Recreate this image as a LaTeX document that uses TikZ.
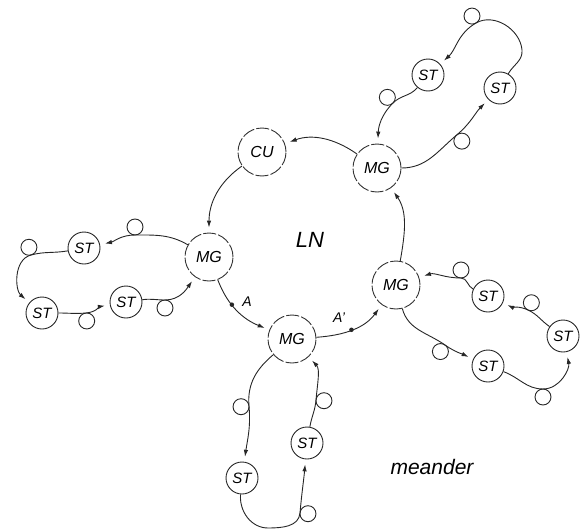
\documentclass[tikz,border=0pt]{standalone}
\usepackage{fontspec}
\setmainfont{Liberation Sans}
\usetikzlibrary{arrows.meta}

\begin{document}
\begin{tikzpicture}[x=1pt,y=1pt,
  line width=0.9pt, draw=black!85,
  big/.style={circle, draw=black!80, dash pattern=on 13pt off 2.2pt,
    minimum size=48pt, inner sep=0pt, font=\fontsize{16}{16}\selectfont\itshape},
  stbox/.style={circle, draw, minimum size=32pt, inner sep=0pt,
    font=\fontsize{15}{15}\selectfont\itshape},
  lp/.style={circle, draw, minimum size=16pt, inner sep=0pt, outer sep=0pt},
  arr/.style={-{Latex[length=7pt,width=4.5pt]}, shorten >=5pt},
  dot/.style={circle, fill=black!85, inner sep=0pt, minimum size=4.5pt},
  lbl/.style={font=\fontsize{14}{14}\selectfont\itshape, inner sep=0pt}]
\useasboundingbox (0,0) rectangle (581,-530);

% ring of the local network
\node[big] (CU)  at (262,-152) {CU};
\node[big] (MGt) at (377,-168) {MG};
\node[big] (MGl) at (209,-257) {MG};
\node[big] (MGb) at (292,-339) {MG};
\node[big] (MGr) at (396,-285) {MG};
\node[font=\fontsize{22}{22}\selectfont\itshape] (LN) at (310,-240) {LN};

% stations
\node[stbox] (t1) at (428,-75)  {ST};
\node[stbox] (t2) at (500,-88)  {ST};
\node[stbox] (l1) at (84,-248)  {ST};
\node[stbox] (l2) at (42,-313)  {ST};
\node[stbox] (l3) at (126,-302) {ST};
\node[stbox] (r1) at (488,-296) {ST};
\node[stbox] (r2) at (563,-336) {ST};
\node[stbox] (r3) at (488,-366) {ST};
\node[stbox] (b1) at (242,-478) {ST};
\node[stbox] (b2) at (307,-443) {ST};

\node[font=\fontsize{21}{21}\selectfont\itshape] (mea) at (432,-467) {meander};

% touching points of the small loops
\coordinate (k1)  at (456.7,-135);
\coordinate (k2)  at (476,-23);
\coordinate (k3)  at (393,-103);
\coordinate (k4)  at (135,-235);
\coordinate (k5)  at (31,-255);
\coordinate (k6)  at (86,-313);
\coordinate (k7)  at (165,-300);
\coordinate (k8)  at (249,-406);
\coordinate (k9)  at (300,-513);
\coordinate (k10) at (316,-400);
\coordinate (k11) at (445,-345);
\coordinate (k12) at (543,-389);
\coordinate (k13) at (528,-310);
\coordinate (k14) at (461,-278);

% the small loops, each on the right-hand side of its line
\node[lp] (p1)  at ([shift={(310:8)}]k1)  {};
\node[lp] (p2)  at ([shift={(120:8)}]k2)  {};
\node[lp] (p3)  at ([shift={(135:8)}]k3)  {};
\node[lp] (p4)  at ([shift={(90:8)}]k4)   {};
\node[lp] (p5)  at ([shift={(105:8)}]k5)  {};
\node[lp] (p6)  at ([shift={(275:8)}]k6)  {};
\node[lp] (p7)  at ([shift={(270:8)}]k7)  {};
\node[lp] (p8)  at ([shift={(185:8)}]k8)  {};
\node[lp] (p9)  at ([shift={(355:8)}]k9)  {};
\node[lp] (p10) at ([shift={(355:8)}]k10) {};
\node[lp] (p11) at ([shift={(235:8)}]k11) {};
\node[lp] (p12) at ([shift={(270:8)}]k12) {};
\node[lp] (p13) at ([shift={(65:8)}]k13)  {};
\node[lp] (p14) at ([shift={(90:8)}]k14)  {};

% ring connections
\draw[arr] (MGt) to[out=145,in=20] (CU);
\draw[arr] (CU) to[out=215,in=90] (MGl);
\draw[arr] (MGl) to[out=-69,in=158] node[dot,pos=0.38] (dA) {} (MGb);
\draw[arr] (MGb) to[out=4,in=234] node[dot,pos=0.47] (dB) {} (MGr);
\draw[arr] (MGr) to[out=80,in=-55] (MGt);
\node[lbl] (lA) at (247,-302) {A};
\node[lbl] (lB) at (339,-318) {A'};

% upper meander
\draw[arr] (MGt) to[out=0,in=220] (k1) to[out=40,in=225] (t2);
\draw[arr] (t2) to[out=60,in=-85] (522,-50) to[out=95,in=30] (k2) to[out=210,in=42] (t1);
\draw[arr] (t1) to[out=230,in=45] (k3) to[out=225,in=88] (MGt);

% left meander
\draw[arr] (MGl) to[out=150,in=0] (k4) to[out=180,in=12] (l1);
\draw[arr] (l1) to[out=190,in=15] (k5) to[out=195,in=140] (l2);
\draw[arr] (l2) to[out=0,in=185] (k6) to[out=5,in=190] (l3);
\draw[arr] (l3) to[out=8,in=180] (k7) to[out=0,in=235] (MGl);

% lower meander
\draw[arr] (MGb) to[out=220,in=95] (k8) to[out=275,in=82] (b1);
\draw[arr] (b1) to[out=265,in=180] (268,-528) to[out=0,in=265] (k9) to[out=85,in=265] (b2);
\draw[arr] (b2) to[out=80,in=265] (k10) to[out=85,in=-47] (MGb);

% right meander
\draw[arr] (MGr) to[out=-75,in=145] (k11) to[out=-35,in=155] (r3);
\draw[arr] (r3) to[out=-20,in=180] (k12) to[out=0,in=-78] (r2);
\draw[arr] (r2) to[out=145,in=-25] (k13) to[out=155,in=-25] (r1);
\draw[arr] (r1) to[out=155,in=0] (k14) to[out=180,in=18] (MGr);
\end{tikzpicture}
\end{document}
